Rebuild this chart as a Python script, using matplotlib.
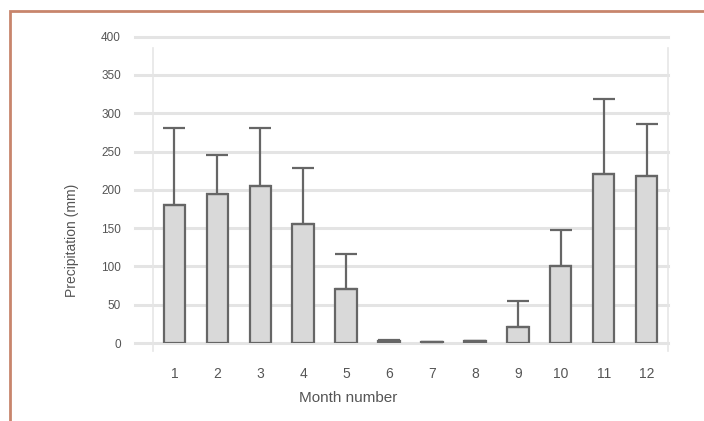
import numpy as np
import matplotlib
matplotlib.use("Agg")
import matplotlib.pyplot as plt
from matplotlib.patches import Rectangle
import matplotlib.transforms as mtransforms

# ── data ──────────────────────────────────────────────────────────────────────
months = [1, 2, 3, 4, 5, 6, 7, 8, 9, 10, 11, 12]
precip_mean = [180, 194, 205, 156, 71, 3, 1, 2, 21, 100, 221, 218]
precip_upper = [281, 245, 281, 229, 116, 4, 1, 2, 55, 148, 318, 286]
y_ticks = [0, 50, 100, 150, 200, 250, 300, 350, 400]

err_up = [u - m for u, m in zip(precip_upper, precip_mean)]

plt.rcParams["font.family"] = ["Liberation Sans", "DejaVu Sans"]

W, H = 704, 421
fig = plt.figure(figsize=(W / 100, H / 100), dpi=100, facecolor="white")

# ── orange frame (top and left edges visible) ─────────────────────────────────
fig.patches.append(Rectangle((10 / W, -0.2), 1.2, (H - 11) / H + 0.2,
                             transform=fig.transFigure, fill=False,
                             edgecolor="#c8856c", lw=2.0, clip_on=False))

ax = fig.add_axes([153 / W, 1 - 343 / H, (668 - 153) / W, (343 - 36.7) / H])
ax.set_xlim(0.5, 12.5)
ax.set_ylim(0, 400)

# gridlines reaching out left past the axis
trans = mtransforms.blended_transform_factory(ax.transAxes, ax.transData)
for y in y_ticks:
    ax.plot([-0.035, 1.0], [y, y], transform=trans, color="#e4e4e4",
            lw=2.2, clip_on=False, zorder=0)

ax.bar(months, precip_mean, width=0.5, color="#d9d9d9",
       edgecolor="#666666", linewidth=1.6, zorder=2)
ax.errorbar(months, precip_mean, yerr=[np.zeros(12), err_up], fmt="none",
            ecolor="#666666", elinewidth=1.6, capsize=8, capthick=1.6,
            zorder=3)

for side in ["top", "bottom"]:
    ax.spines[side].set_visible(False)
for side in ["left", "right"]:
    ax.spines[side].set_color("#e6e6e6")
    ax.spines[side].set_linewidth(1.2)
ax.spines["left"].set_bounds(-10, 385)
ax.spines["right"].set_bounds(-10, 385)

ax.set_yticks(y_ticks)
ax.set_yticklabels([str(v) for v in y_ticks])
ax.set_xticks(months)
ax.set_xticklabels([str(m) for m in months])
ax.tick_params(axis="y", length=0, pad=23, labelsize=8.5, labelcolor="#555555")
ax.tick_params(axis="x", length=0, pad=17, labelsize=10, labelcolor="#555555")

fig.text(348 / W, 1 - 398 / H, "Month number", ha="center", va="center",
         fontsize=11, color="#555555")
fig.text(72 / W, 1 - 240 / H, "Precipitation (mm)", ha="center",
         va="center", rotation=90, fontsize=10, color="#555555")

fig.savefig("out.png", dpi=100, facecolor="white")
